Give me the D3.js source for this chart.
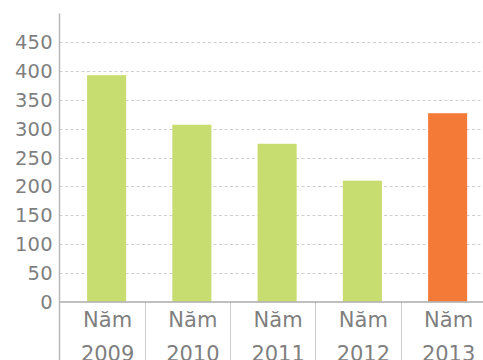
<!DOCTYPE html>
<html>
<head>
<meta charset="utf-8">
<script src="https://cdn.jsdelivr.net/npm/d3@7"></script>
<style>
  body { margin: 0; background: #fff; }
  text { font-family: "DejaVu Sans", sans-serif; fill: #7f7f7f; }
</style>
</head>
<body>
<div id="chart"></div>
<script>
  var years = ['2009', '2010', '2011', '2012', '2013'];
  var values = [393, 307, 274, 210, 327];
  var yTicks = [0, 50, 100, 150, 200, 250, 300, 350, 400, 450];
  var labelPrefix = 'Năm';

  var svgWidth = 483;
  var svgHeight = 360;

  var svg = d3.select("#chart")
    .append("svg")
    .attr("width", svgWidth)
    .attr("height", svgHeight);

  var axisX = 59.5;

  // cells between separators, bars sit a bit right of cell centre
  var cellScale = d3.scaleBand()
    .domain(years)
    .range([axisX, axisX + 85.25 * years.length]);

  var xScale = d3.scaleBand()
    .domain(years)
    .range([axisX + 4.5, axisX + 4.5 + 85.25 * years.length])
    .paddingInner(0.542)
    .paddingOuter(0.271);

  var yScale = d3.scaleLinear()
    .domain([0, 500])
    .range([301.7, 13.5]);

  // grid lines
  svg.append("g")
    .selectAll("line")
    .data(yTicks.filter(d => d > 0))
    .enter()
    .append("line")
    .attr("x1", axisX)
    .attr("x2", svgWidth)
    .attr("y1", d => Math.round(yScale(d)) + 0.5)
    .attr("y2", d => Math.round(yScale(d)) + 0.5)
    .attr("stroke", "#cfcfcf")
    .attr("stroke-dasharray", "3,2.5");

  // bars
  svg.selectAll(".bar")
    .data(values)
    .enter()
    .append("rect")
    .attr("class", "bar")
    .attr("x", (d, i) => xScale(years[i]))
    .attr("y", d => yScale(d))
    .attr("width", xScale.bandwidth())
    .attr("height", d => yScale(0) - yScale(d))
    .attr("fill", (d, i) => i === years.length - 1 ? "#f47b37" : "#c7dd6f");

  // separators under the baseline
  svg.append("g")
    .selectAll("line")
    .data(years.slice(1))
    .enter()
    .append("line")
    .attr("x1", d => Math.round(cellScale(d)) + 0.5)
    .attr("x2", d => Math.round(cellScale(d)) + 0.5)
    .attr("y1", yScale(0))
    .attr("y2", svgHeight)
    .attr("stroke", "#cccccc");

  // baseline
  svg.append("line")
    .attr("x1", axisX)
    .attr("x2", svgWidth)
    .attr("y1", 302)
    .attr("y2", 302)
    .attr("stroke", "#ababab")
    .attr("stroke-width", 1.5);

  // y axis line
  svg.append("line")
    .attr("x1", axisX)
    .attr("x2", axisX)
    .attr("y1", yScale(500))
    .attr("y2", svgHeight)
    .attr("stroke", "#b8b8b8")
    .attr("stroke-width", 1.5);

  // y tick labels
  svg.append("g")
    .selectAll("text")
    .data(yTicks)
    .enter()
    .append("text")
    .attr("x", 53)
    .attr("y", d => yScale(d))
    .attr("dy", "0.36em")
    .attr("text-anchor", "end")
    .style("font-size", "19.5px")
    .style("letter-spacing", "0.3px")
    .text(d => d);

  // x labels, two lines
  var xl = svg.append("g")
    .selectAll("text")
    .data(years)
    .enter()
    .append("text")
    .attr("text-anchor", "middle")
    .style("font-size", "21px");

  xl.append("tspan")
    .attr("x", d => xScale(d) + xScale.bandwidth() / 2 + 1)
    .attr("y", 326.5)
    .text(labelPrefix);

  xl.append("tspan")
    .attr("x", d => xScale(d) + xScale.bandwidth() / 2 + 1)
    .attr("y", 360.5)
    .text(d => d);
</script>
</body>
</html>
